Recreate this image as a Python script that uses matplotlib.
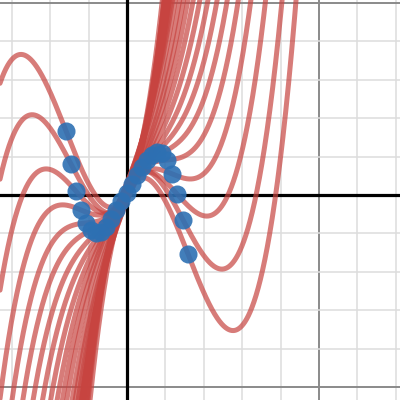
import numpy as np
import matplotlib
matplotlib.use("Agg")
import matplotlib.pyplot as plt

# Inflection points of each cubic (blue dots), in graph units
x0 = [-1.59, -1.46, -1.33, -1.20, -1.07, -0.94, -0.81, -0.68, -0.55, -0.42, -0.29, -0.16, 0.00,
      0.13, 0.26, 0.39, 0.52, 0.65, 0.78, 0.91, 1.04, 1.17, 1.30, 1.46, 1.59]
y0 = [1.67, 0.81, 0.10, -0.39, -0.73, -0.91, -0.99, -0.96, -0.83, -0.63, -0.39, -0.16, 0.05,
      0.29, 0.52, 0.73, 0.91, 1.04, 1.12, 1.09, 0.91, 0.55, 0.03, -0.65, -1.54]
# slope at the inflection point of each cubic
slope = [-2.55, -1.90, -1.12, -0.42, 0.10, 0.55, 1.00, 1.45, 1.85, 2.15, 2.35, 2.45, 2.50,
         2.45, 2.35, 2.15, 1.85, 1.45, 1.00, 0.55, 0.10, -0.42, -1.12, -1.90, -2.55]
# cubic coefficient (shared)
cubic = [0.62] * 25

fig = plt.figure(figsize=(4, 4), dpi=100)
ax = fig.add_axes([0, 0, 1, 1])
xmin, xmax = -127 / 38.4, 273 / 38.4
ymin, ymax = -205 / 38.4, 195 / 38.4
ax.set_xlim(xmin, xmax)
ax.set_ylim(ymin, ymax)
ax.axis("off")

# grid
for gx in range(-3, 8):
    if gx == 0:
        continue
    major = gx % 5 == 0
    ax.axvline(gx, color="#8a8a8a" if major else "#dddddd",
               lw=1.4 if major else 1.1, zorder=0)
for gy in range(-5, 6):
    if gy == 0:
        continue
    major = gy % 5 == 0
    ax.axhline(gy, color="#8a8a8a" if major else "#dddddd",
               lw=1.4 if major else 1.1, zorder=0)
ax.axvline(0, color="black", lw=2.3, zorder=1)
ax.axhline(0, color="black", lw=2.3, zorder=1)

xs = np.linspace(xmin, xmax, 3000)
for a, b, m, k in zip(x0, y0, slope, cubic):
    u = xs - a
    ys = b + m * u + k * u ** 3
    ax.plot(xs, ys, color="#c74440", alpha=0.7, lw=3.6, solid_capstyle="round", zorder=2)

ax.plot(x0, y0, "o", color="#2d70b3", alpha=0.9, markersize=13, markeredgewidth=0, zorder=3)

fig.savefig("out.png", dpi=100)
